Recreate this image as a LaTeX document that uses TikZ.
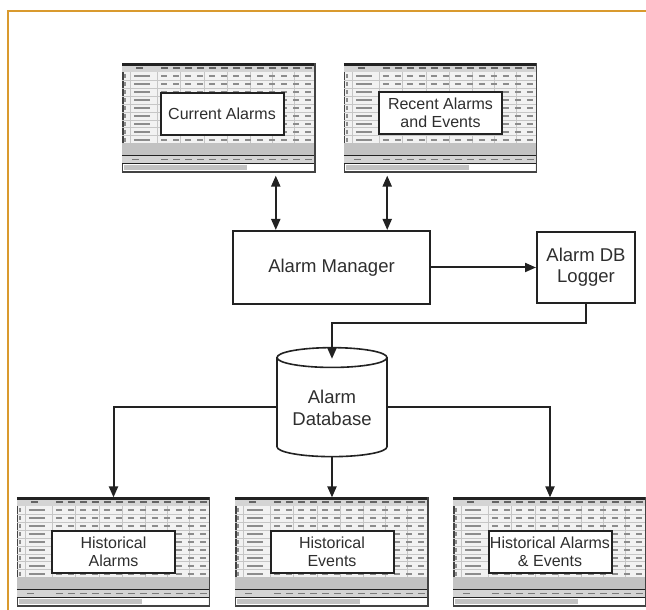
\documentclass[tikz,border=0pt]{standalone}
\usepackage{fontspec}
\setmainfont{Liberation Sans}
\usetikzlibrary{calc,arrows.meta,shapes.geometric}
\definecolor{rim}{HTML}{D99A2E}
\definecolor{dark}{HTML}{222222}
\definecolor{txt}{HTML}{2E2E2E}
\definecolor{cell}{HTML}{F2F2F2}
\definecolor{hdr}{HTML}{D4D4D4}
\definecolor{band}{HTML}{C2C2C2}
\definecolor{ink}{HTML}{8C8C8C}
\tikzset{
  box/.style={draw=dark, line width=2pt, fill=white, text=txt, align=center, inner sep=0pt, font=\fontsize{18.5}{21}\selectfont},
  tag/.style={draw=dark, line width=2pt, fill=white, text=txt, align=center, inner sep=0pt, minimum width=123pt, minimum height=42pt, font=\fontsize{16}{18}\selectfont},
  sheet/.style={draw=dark!85, line width=1.2pt, fill=cell, minimum width=192pt, minimum height=108pt, inner sep=0pt},
  store/.style={cylinder, shape border rotate=90, aspect=0.25, draw=dark, line width=1.6pt, fill=white, text=txt, align=center, minimum height=109pt, minimum width=110pt, inner sep=0pt, font=\fontsize{18.5}{22}\selectfont},
  conn/.style={draw=dark, line width=2pt},
  arr/.style={-{Triangle[length=11pt,width=9pt]}},
  darr/.style={{Triangle[length=11pt,width=9pt]}-{Triangle[length=11pt,width=9pt]}},
  rule/.style={draw=gray!45, line width=0.4pt},
  smudge/.style={draw=ink, line width=2pt},
}
% a sheet node with its blurred spreadsheet on it
\newcommand{\sheetat}[2]{%
  \node[sheet] (#1) at (#2) {};
  \begin{scope}[shift={(#1.north west)}]
    \fill[hdr] (0,0) rectangle (192,-9);
    \fill[band] (0,-80) rectangle (192,-92);
    \fill[hdr] (0,-92) rectangle (192,-100);
    \fill[white] (0.6,-100) rectangle (191.4,-107.4);
    \fill[band] (2,-101.5) rectangle (125,-106.5);
    \foreach \r in {1,...,8} \draw[rule] (0,-9-\r*7.9) -- (192,-9-\r*7.9);
    \foreach \c in {8,35,58,82,105,128,150,172} \draw[rule] (\c,-9) -- (\c,-80);
    \foreach \r in {0,...,8}{
      \draw[smudge] (3,-11-\r*7.9) -- (3,-15-\r*7.9);
      \draw[smudge] (12,-13-\r*7.9) -- (28,-13-\r*7.9);
      \foreach \c in {39,51,...,183} \draw[smudge] (\c,-13-\r*7.9) -- ++(6,0);
    }
    \foreach \c in {14,39,51,...,183} \draw[smudge, draw=dark!70, line width=1.6pt] (\c,-4.5) -- ++(7,0);
    \foreach \c in {10,39,51,...,183} \draw[smudge, draw=dark!60, line width=1.6pt] (\c,-96) -- ++(7,0);
    \draw[dark, line width=0.8pt] (0,-92) -- (192,-92) (0,-100) -- (192,-100);
    \draw[dark, line width=2.4pt] (0,-1) -- (192,-1);
  \end{scope}}

\begin{document}
\begin{tikzpicture}[x=1pt,y=1pt]
  \useasboundingbox (0,0) rectangle (646,610);
  \fill[white] (0,0) rectangle (646,610);
  \draw[rim, line width=2pt] (8,0) -- (8,599) -- (646,599);

  % screens on top
  \sheetat{cur}{219,492}
  \node[tag] (curtag) at ($(cur)+(3,4)$) {Current Alarms};
  \sheetat{rec}{440.5,492}
  \node[tag] (rectag) at ($(rec)+(0,5)$) {Recent Alarms\\and Events};

  \node[box, minimum width=197pt, minimum height=73pt] (mgr) at (331.5,342.5) {Alarm Manager};
  \node[box, minimum width=98pt, minimum height=71pt] (logger) at (586,342.5) {Alarm DB\\Logger};
  \node[store] (db) at (332,202.5) {Alarm\\Database};

  % history screens
  \sheetat{hA}{113.5,58}
  \node[tag] (hAtag) at (hA) {Historical\\Alarms};
  \sheetat{hE}{332,58}
  \node[tag] (hEtag) at (hE) {Historical\\Events};
  \sheetat{hAE}{550,58}
  \node[tag] (hAEtag) at (hAE) {Historical Alarms\\\& Events};

  \coordinate (m1) at ($(mgr.north west)!0.22!(mgr.north east)$);
  \coordinate (m2) at ($(mgr.north west)!0.78!(mgr.north east)$);
  \draw[conn,darr] (m1) -- ($(m1 |- cur.south)+(0,-3)$);
  \draw[conn,darr] (m2) -- ($(m2 |- rec.south)+(0,-3)$);
  \draw[conn,arr] (mgr.east) -- (logger.west);
  \coordinate (dbin) at ($(db.north)+(0,-12)$);
  \draw[conn,arr] (logger.south) -- ++(0,-19) -| (dbin);
  \draw[conn,arr] (db.west) -| (hA.north);
  \draw[conn,arr] (db.south) -- (hE.north);
  \draw[conn,arr] (db.east) -| (hAE.north);
\end{tikzpicture}
\end{document}
